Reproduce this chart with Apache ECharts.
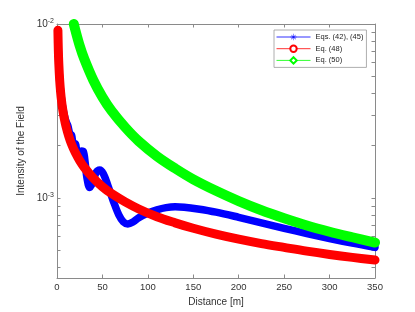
<!DOCTYPE html>
<html>
<head>
<meta charset="utf-8">
<script src="https://cdn.jsdelivr.net/npm/echarts@6/dist/echarts.min.js"></script>
<style>html,body{margin:0;padding:0;background:#fff}#c{width:415px;height:312px}</style>
</head>
<body>
<div id="c"></div>
<script>
// Distances [m] and field intensities
const distBlue = [1, 1.5, 2, 3, 4, 5, 6, 8, 10, 12, 14, 16, 18, 20, 22, 24, 27, 29, 31, 33, 36, 39, 43, 47, 51, 56, 62, 68, 73, 78, 84, 90, 100, 110, 120, 130, 140, 155, 175, 200, 225, 250, 275, 300, 325, 350];
const valBlue = [9.2e-3, 7.0e-3, 5.9e-3, 4.7e-3, 4.1e-3, 3.7e-3, 3.4e-3, 3.0e-3, 2.75e-3, 2.6e-3, 2.35e-3, 2.3e-3, 2.05e-3, 2.05e-3, 1.85e-3, 1.82e-3, 1.86e-3, 1.85e-3, 1.6e-3, 1.3e-3, 1.15e-3, 1.22e-3, 1.4e-3, 1.45e-3, 1.38e-3, 1.18e-3, 9.6e-4, 8.0e-4, 7.3e-4, 7.1e-4, 7.3e-4, 7.7e-4, 8.2e-4, 8.55e-4, 8.8e-4, 8.9e-4, 8.85e-4, 8.65e-4, 8.3e-4, 7.75e-4, 7.2e-4, 6.7e-4, 6.25e-4, 5.85e-4, 5.5e-4, 5.2e-4];

const distRed = [1, 1.5, 2, 3, 4, 5, 6, 8, 10, 13, 16, 20, 25, 30, 40, 50, 60, 75, 90, 110, 130, 150, 175, 200, 225, 250, 275, 300, 325, 350];
const valRed = [9.2e-3, 7.0e-3, 5.9e-3, 4.7e-3, 4.05e-3, 3.62e-3, 3.3e-3, 2.87e-3, 2.57e-3, 2.26e-3, 2.04e-3, 1.83e-3, 1.64e-3, 1.5e-3, 1.3e-3, 1.16e-3, 1.06e-3, 9.5e-4, 8.65e-4, 7.8e-4, 7.2e-4, 6.7e-4, 6.2e-4, 5.8e-4, 5.47e-4, 5.2e-4, 4.95e-4, 4.74e-4, 4.56e-4, 4.4e-4];

const distGreen = [18.5, 20, 25, 30, 40, 50, 60, 75, 90, 110, 130, 150, 175, 200, 225, 250, 275, 300, 325, 350];
const valGreen = [1.0e-2, 9.3e-3, 7.5e-3, 6.3e-3, 4.75e-3, 3.8e-3, 3.17e-3, 2.55e-3, 2.12e-3, 1.74e-3, 1.48e-3, 1.28e-3, 1.1e-3, 9.6e-4, 8.5e-4, 7.65e-4, 6.95e-4, 6.4e-4, 5.95e-4, 5.55e-4];

const legendNames = ['Eqs. (42), (45)', 'Eq. (48)', 'Eq. (50)'];
const yMajorTicks = [1e-3, 1e-2];
const yAllTicks = [4e-4, 5e-4, 6e-4, 7e-4, 8e-4, 9e-4, 1e-3, 2e-3, 3e-3, 4e-3, 5e-3, 6e-3, 7e-3, 8e-3, 9e-3, 1e-2];

const zip = (xs, ys) => xs.map((x, i) => [x, ys[i]]);
const asterisk = 'path://M9.3,0h1.4v20h-1.4z M0,9.3h20v1.4h-20z M2.6,3.6l1,-1l14,14l-1,1z M16.4,2.6l1,1l-14,14l-1,-1z';

const axisCol = '#8a8a8a';
const labCol = '#333';
const font = 'Liberation Sans, Arial, sans-serif';

const chart = echarts.init(document.getElementById('c'), null, {renderer: 'canvas'});
const yMin = 3.47e-4, yMax = 1e-2;
chart.setOption({
  animation: false,
  backgroundColor: '#fff',
  grid: {left: 57, right: 40, top: 24, bottom: 34, containLabel: false, outerBoundsMode: 'none'},
  legend: {
    data: legendNames,
    orient: 'vertical',
    left: 274, top: 30,
    padding: [2, 3, 2, 2],
    itemWidth: 34, itemHeight: 8, itemGap: 1.7,
    backgroundColor: '#fff',
    borderColor: '#999', borderWidth: 0.8, borderRadius: 0,
    lineStyle: {width: 1},
    itemStyle: {borderWidth: 0.7},
    textStyle: {fontSize: 7.5, lineHeight: 10, color: '#222', fontFamily: font}
  },
  xAxis: [{
    type: 'value', min: 0, max: 350, interval: 50, position: 'bottom',
    name: 'Distance [m]', nameLocation: 'middle', nameGap: 17,
    nameTextStyle: {fontSize: 10, color: labCol, fontFamily: font},
    axisLine: {show: true, lineStyle: {color: axisCol, width: 1}},
    axisTick: {show: true, inside: true, length: 3.5, lineStyle: {color: axisCol}},
    axisLabel: {fontSize: 9.5, color: labCol, margin: 4, fontFamily: font},
    splitLine: {show: false}
  }, {
    type: 'value', min: 0, max: 350, interval: 50, position: 'top',
    axisLine: {show: true, onZero: false, lineStyle: {color: axisCol, width: 1}},
    axisTick: {show: true, inside: true, length: 3.5, lineStyle: {color: axisCol}},
    axisLabel: {show: false},
    splitLine: {show: false}
  }],
  yAxis: [{
    type: 'log', logBase: 10, min: yMin, max: yMax, position: 'left',
    name: 'Intensity of the Field', nameLocation: 'middle', nameGap: 22,
    nameTextStyle: {fontSize: 10, color: labCol, fontFamily: font},
    axisLine: {show: true, lineStyle: {color: axisCol, width: 1}},
    axisTick: {show: true, inside: true, length: 3.5, customValues: yAllTicks, lineStyle: {color: axisCol}},
    axisLabel: {
      customValues: yMajorTicks, margin: 3, color: labCol, fontFamily: font,
      formatter: v => '{b|10}{s|' + Math.round(Math.log10(v)) + '}',
      rich: {
        b: {fontSize: 10, color: labCol, fontFamily: font},
        s: {fontSize: 7, color: labCol, fontFamily: font, padding: [0, 0, 6, 0]}
      }
    },
    splitLine: {show: false}
  }, {
    type: 'log', logBase: 10, min: yMin, max: yMax, position: 'right',
    axisLine: {show: true, onZero: false, lineStyle: {color: axisCol, width: 1}},
    axisTick: {show: true, inside: true, length: 3.5, customValues: yAllTicks, lineStyle: {color: axisCol}},
    axisLabel: {show: false},
    splitLine: {show: false}
  }],
  series: [
    {name: 'blueBand', type: 'line', data: zip(distBlue, valBlue), smooth: 0.35, showSymbol: false, z: 2,
     lineStyle: {color: '#0000ff', width: 7.5, cap: 'round', join: 'round'}},
    {name: 'redBand', type: 'line', data: zip(distRed, valRed), smooth: 0.35, showSymbol: false, z: 3,
     lineStyle: {color: '#ff0000', width: 9, cap: 'round', join: 'round'}},
    {name: 'greenBand', type: 'line', data: zip(distGreen, valGreen), smooth: 0.35, showSymbol: false, z: 4,
     lineStyle: {color: '#00ff00', width: 10, cap: 'round', join: 'round'}},
    {name: legendNames[0], type: 'line', data: [], symbol: asterisk, symbolSize: 7,
     itemStyle: {color: '#0000ff', borderWidth: 0}, lineStyle: {color: '#3030ff', width: 1}},
    {name: legendNames[1], type: 'line', data: [], symbol: 'emptyCircle', symbolSize: 7,
     itemStyle: {color: '#ff0000', borderColor: '#ff0000', borderWidth: 0.7}, lineStyle: {color: '#ff3030', width: 1}},
    {name: legendNames[2], type: 'line', data: [], symbol: 'emptyDiamond', symbolSize: 8,
     itemStyle: {color: '#00ff00', borderColor: '#00ff00', borderWidth: 0.7}, lineStyle: {color: '#30ff30', width: 1}}
  ]
});
</script>
</body>
</html>
